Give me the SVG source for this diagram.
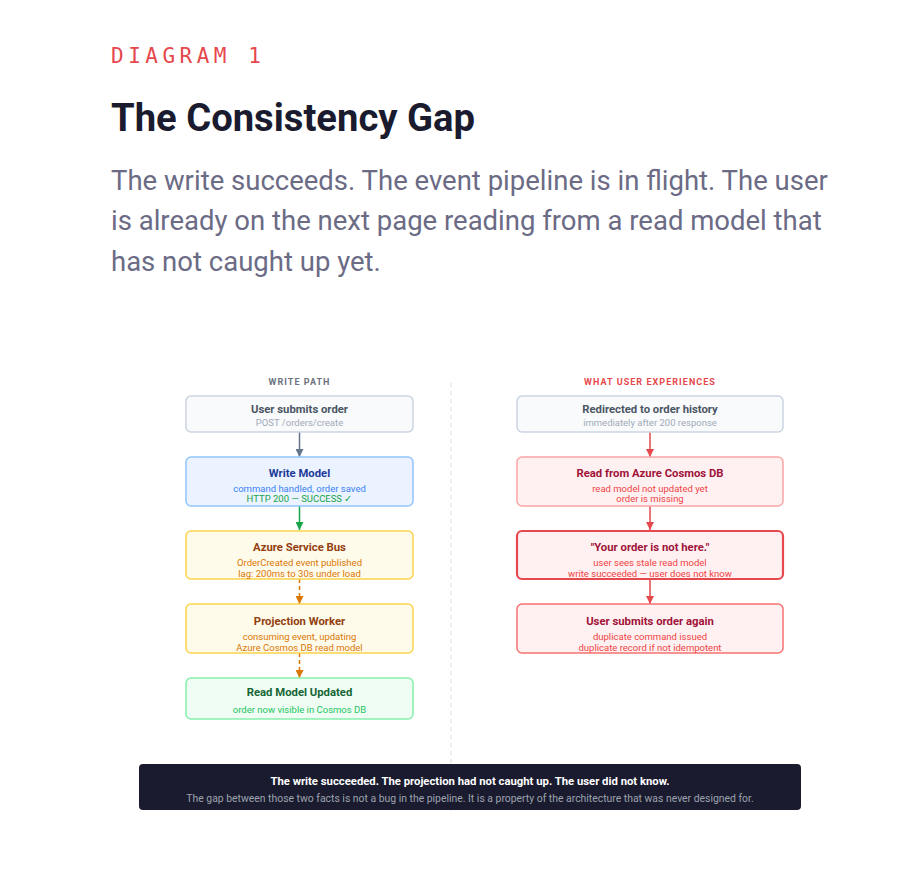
<svg xmlns="http://www.w3.org/2000/svg" width="907" height="879" viewBox="0 0 907 879">
<defs>
<style>
.t{font-family:Roboto,"Liberation Sans",sans-serif;text-anchor:middle}
.h{font-size:11.3px;font-weight:700}
.s{font-size:9.5px}
.lbl{font-size:9px;font-weight:700;letter-spacing:1.05px}
.grey rect{fill:#f8fafc;stroke:#cbd5e1;stroke-width:1.5}
.blue rect{fill:#eaf3ff;stroke:#93c5fd;stroke-width:1.5}
.amber rect{fill:#fffbeb;stroke:#fcd34d;stroke-width:1.5}
.green rect{fill:#f0fdf4;stroke:#86efac;stroke-width:1.5}
.red rect{fill:#fff1f2;stroke:#fca5a5;stroke-width:1.5}
.redb rect{fill:#fff1f2;stroke:#e5484d;stroke-width:2.2}
.redm rect{fill:#fff1f2;stroke:#f87171;stroke-width:1.5}
</style>
<marker id="ag" viewBox="0 0 10 10" refX="10" refY="5" markerWidth="8" markerHeight="8" markerUnits="userSpaceOnUse" orient="auto"><path d="M0,0L10,5L0,10z" fill="#64748b"/></marker>
<marker id="agr" viewBox="0 0 10 10" refX="10" refY="5" markerWidth="8" markerHeight="8" markerUnits="userSpaceOnUse" orient="auto"><path d="M0,0L10,5L0,10z" fill="#16a34a"/></marker>
<marker id="ao" viewBox="0 0 10 10" refX="10" refY="5" markerWidth="8" markerHeight="8" markerUnits="userSpaceOnUse" orient="auto"><path d="M0,0L10,5L0,10z" fill="#d97706"/></marker>
<marker id="ar" viewBox="0 0 10 10" refX="10" refY="5" markerWidth="8" markerHeight="8" markerUnits="userSpaceOnUse" orient="auto"><path d="M0,0L10,5L0,10z" fill="#e5484d"/></marker>
</defs>
<rect width="907" height="879" fill="#ffffff"/>

<g id="header">
<text x="111" y="63" font-family="'DejaVu Sans Mono','Liberation Mono',monospace" font-size="21" letter-spacing="4.5" fill="#e5484d">DIAGRAM 1</text>
<text x="111" y="131" font-family="Roboto,'Liberation Sans',sans-serif" font-size="38.2" font-weight="700" fill="#1a1b2e">The Consistency Gap</text>
<g font-family="Roboto,'Liberation Sans',sans-serif" font-size="27.5" fill="#6b6b85">
<text x="111" y="190">The write succeeds. The event pipeline is in flight. The user</text>
<text x="111" y="230">is already on the next page reading from a read model that</text>
<text x="111" y="271">has not caught up yet.</text>
</g>
</g>

<line id="divider" x1="451" y1="383" x2="451" y2="815" stroke="#e2e2e2" stroke-width="1.2" stroke-dasharray="4 4"/>

<text class="t lbl" x="299.5" y="385" fill="#6b7280">WRITE PATH</text>
<text class="t lbl" x="650" y="385" fill="#e5484d">WHAT USER EXPERIENCES</text>

<g id="connectors" stroke-width="1.5" fill="none">
<line x1="299.5" y1="432" x2="299.5" y2="457" stroke="#64748b" marker-end="url(#ag)"/>
<line x1="299.5" y1="506" x2="299.5" y2="530" stroke="#16a34a" marker-end="url(#agr)"/>
<line x1="299.5" y1="579" x2="299.5" y2="604" stroke="#d97706" stroke-dasharray="4 3" marker-end="url(#ao)"/>
<line x1="299.5" y1="653" x2="299.5" y2="678" stroke="#d97706" stroke-dasharray="4 3" marker-end="url(#ao)"/>
<line x1="650" y1="432" x2="650" y2="457" stroke="#e5484d" marker-end="url(#ar)"/>
<line x1="650" y1="506" x2="650" y2="530" stroke="#e5484d" marker-end="url(#ar)"/>
<line x1="650" y1="579" x2="650" y2="604" stroke="#e5484d" marker-end="url(#ar)"/>
</g>

<g id="n-submit" class="grey">
<rect x="186" y="396" width="227" height="36" rx="5"/>
<text class="t h" x="299.5" y="412.5" fill="#4b5563">User submits order</text>
<text class="t s" x="299.5" y="426" fill="#a3aab8">POST /orders/create</text>
</g>
<g id="n-write" class="blue">
<rect x="186" y="457" width="227" height="49" rx="5"/>
<text class="t h" x="299.5" y="476.5" fill="#1e3a9a">Write Model</text>
<text class="t s" x="299.5" y="491.5" fill="#3b82f6">command handled, order saved</text>
<text class="t s" x="299.5" y="501.5" fill="#16a34a">HTTP 200 — SUCCESS ✓</text>
</g>
<g id="n-bus" class="amber">
<rect x="186" y="531" width="227" height="48" rx="5"/>
<text class="t h" x="299.5" y="551" fill="#92400e">Azure Service Bus</text>
<text class="t s" x="299.5" y="566" fill="#d97706">OrderCreated event published</text>
<text class="t s" x="299.5" y="577" fill="#d97706">lag: 200ms to 30s under load</text>
</g>
<g id="n-proj" class="amber">
<rect x="186" y="604" width="227" height="49" rx="5"/>
<text class="t h" x="299.5" y="625" fill="#92400e">Projection Worker</text>
<text class="t s" x="299.5" y="639.5" fill="#d97706">consuming event, updating</text>
<text class="t s" x="299.5" y="650.5" fill="#d97706">Azure Cosmos DB read model</text>
</g>
<g id="n-updated" class="green">
<rect x="186" y="678" width="227" height="41" rx="5"/>
<text class="t h" x="299.5" y="696" fill="#166534">Read Model Updated</text>
<text class="t s" x="299.5" y="712.5" fill="#22c55e">order now visible in Cosmos DB</text>
</g>

<g id="n-redirect" class="grey">
<rect x="517" y="396" width="266" height="36" rx="5"/>
<text class="t h" x="650" y="412.5" fill="#4b5563">Redirected to order history</text>
<text class="t s" x="650" y="426" fill="#a3aab8">immediately after 200 response</text>
</g>
<g id="n-read" class="red">
<rect x="517" y="457" width="266" height="49" rx="5"/>
<text class="t h" x="650" y="476.5" fill="#9f1239">Read from Azure Cosmos DB</text>
<text class="t s" x="650" y="491.5" fill="#ef4444">read model not updated yet</text>
<text class="t s" x="650" y="501.5" fill="#ef4444">order is missing</text>
</g>
<g id="n-notHere" class="redb">
<rect x="517" y="531" width="266" height="48" rx="5"/>
<text class="t h" x="650" y="551" fill="#9f1239">"Your order is not here."</text>
<text class="t s" x="650" y="566" fill="#ef4444">user sees stale read model</text>
<text class="t s" x="650" y="577" fill="#ef4444">write succeeded — user does not know</text>
</g>
<g id="n-again" class="redm">
<rect x="517" y="604" width="266" height="49" rx="5"/>
<text class="t h" x="650" y="625" fill="#9f1239">User submits order again</text>
<text class="t s" x="650" y="639.5" fill="#ef4444">duplicate command issued</text>
<text class="t s" x="650" y="650.5" fill="#ef4444">duplicate record if not idempotent</text>
</g>

<g id="summary">
<rect x="139" y="764" width="662" height="46" rx="4" fill="#1a1b2e"/>
<text class="t" x="470" y="785" font-size="11.3" font-weight="700" fill="#ffffff">The write succeeded. The projection had not caught up. The user did not know.</text>
<text class="t" x="470" y="801.5" font-size="10.4" fill="#9ca3af">The gap between those two facts is not a bug in the pipeline. It is a property of the architecture that was never designed for.</text>
</g>
</svg>
